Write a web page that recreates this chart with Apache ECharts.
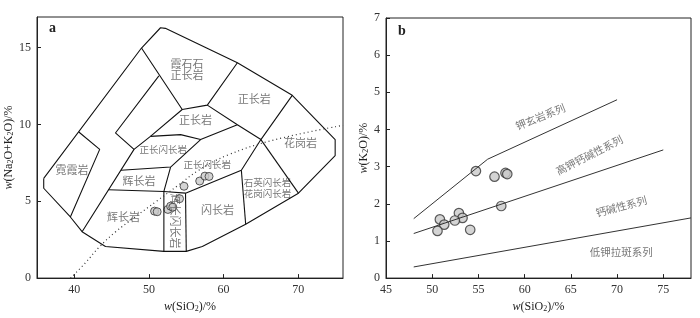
<!DOCTYPE html>
<html>
<head>
<meta charset="utf-8">
<script src="https://cdn.jsdelivr.net/npm/echarts@6/dist/echarts.min.js"></script>
<style>
  html, body { margin: 0; padding: 0; background: #fff; }
  #main { width: 700px; height: 318px; }
</style>
</head>
<body>
<div id="main"></div>
<script>
    // 左图 TAS 分类边界 (SiO2, Na2O+K2O)
    var tasOuter = [[35.9, 6.49], [49.0, 14.98], [51.55, 16.3], [52.2, 16.26], [61.85, 14.02], [69.2, 11.9],
        [74.95, 9.02], [74.95, 7.98], [70.03, 5.53], [62.96, 3.51], [57.15, 2.06], [55.0, 1.74], [52.0, 1.74],
        [44.17, 2.06], [41.04, 3.02], [39.47, 3.98], [35.9, 5.85], [35.9, 6.49]];
    var tasInner = [
        [[49.0, 14.98], [54.46, 10.98], [57.82, 11.26], [61.85, 14.02]],
        [[57.82, 11.26], [61.85, 9.98], [65.0, 9.02], [69.2, 11.9]],
        [[65.0, 9.02], [70.03, 5.53]],
        [[54.46, 10.98], [50.2, 9.23], [48.0, 8.38]],
        [[51.33, 13.17], [45.51, 9.45], [48.0, 8.38], [41.04, 3.02]],
        [[40.6, 9.51], [43.4, 8.38], [39.47, 3.98]],
        [[50.2, 9.23], [54.24, 9.34], [56.92, 9.02], [61.85, 9.98]],
        [[56.92, 9.02], [52.9, 7.23], [46.25, 7.02]],
        [[52.9, 7.23], [52.0, 5.64], [52.0, 1.74]],
        [[44.58, 5.75], [52.0, 5.64], [54.9, 5.53], [62.38, 7.02], [65.0, 9.02]],
        [[54.9, 5.53], [55.0, 1.74]],
        [[62.38, 7.02], [62.96, 3.51]]
    ];
    // 碱性/亚碱性分界 (虚线)
    var alkLine = [[39.5, 0], [41.5, 1], [43.3, 2], [45.5, 3], [48.2, 4], [51.0, 5], [53.8, 6],
        [56.6, 7], [60.5, 8], [66.8, 9], [76.0, 9.95]];
    var tasSamples = [[50.75, 4.36], [51.1, 4.32], [52.54, 4.47], [52.9, 4.68], [53.2, 4.62],
        [54.1, 5.17], [54.7, 5.98], [56.8, 6.32], [57.5, 6.64], [58.05, 6.62]];
    var tasNames = [
        ['霞石石\n正长岩', 55.1, 13.6], ['正长岩', 64.1, 11.68], ['正长岩', 56.25, 10.29],
        ['花岗岩', 70.3, 8.81], ['正长闪长岩', 51.9, 8.4], ['霓霞岩', 39.7, 7.02],
        ['辉长岩', 48.65, 6.32], ['正长闪长岩', 57.8, 7.4], ['石英闪长岩\n花岗闪长岩', 65.9, 5.89],
        ['闪长岩', 59.2, 4.42], ['辉长岩', 46.6, 4.0], ['辉长闪长岩', 53.45, 3.72]
    ];

    // 右图 SiO2-K2O
    var kLines = [
        [[48, 1.6], [56, 3.2], [70, 4.8]],
        [[48, 1.2], [75, 3.45]],
        [[48, 0.3], [78, 1.62]]
    ];
    var kSamples = [[54.73, 2.88], [56.74, 2.73], [57.93, 2.83], [58.12, 2.8], [57.47, 1.94], [52.89, 1.75],
        [53.28, 1.62], [52.45, 1.55], [50.83, 1.58], [51.3, 1.44], [50.57, 1.27], [54.11, 1.3]];
    var kNames = [
        ['钾玄岩系列', 61.7, 4.34], ['高钾钙碱性系列', 67.0, 3.31],
        ['钙碱性系列', 70.45, 1.93], ['低钾拉斑系列', 70.45, 0.69]
    ];
    var kNameRotate = [22, 27, 15, 0];

    var tasXTicks = [40, 50, 60, 70];
    var tasYTicks = [0, 5, 10, 15];
    var kXTicks = [45, 50, 55, 60, 65, 70, 75];

    var serif = '"Liberation Serif", "Times New Roman", serif';
    var cjk = '"Noto Sans CJK SC", sans-serif';
    var rich = {
        i: { fontStyle: 'italic', fontFamily: serif, fontSize: 12, color: '#222' },
        t: { fontFamily: serif, fontSize: 12, color: '#222' },
        s: { fontFamily: serif, fontSize: 8, color: '#222', verticalAlign: 'bottom', lineHeight: 10 }
    };

    function valueAxis(idx, min, max, custom, interval) {
        var ax = {
            type: 'value', gridIndex: idx, min: min, max: max,
            axisLine: { lineStyle: { color: '#222', width: 1 } },
            axisTick: { inside: true, length: 4, lineStyle: { color: '#222' } },
            axisLabel: { fontFamily: serif, fontSize: 12, color: '#333', margin: 6 },
            splitLine: { show: false }
        };
        if (custom) {
            ax.axisTick.customValues = custom;
            ax.axisLabel.customValues = custom;
        } else {
            ax.interval = interval;
        }
        return ax;
    }

    var series = [];
    function addLine(pts, xi, style) {
        series.push({
            type: 'line', xAxisIndex: xi, yAxisIndex: xi, data: pts, symbol: 'none',
            silent: true, lineStyle: style, animation: false
        });
    }
    addLine(tasOuter, 0, { color: '#111', width: 1.1 });
    tasInner.forEach(function(p) { addLine(p, 0, { color: '#111', width: 1.1 }); });
    series.push({
        type: 'line', xAxisIndex: 0, yAxisIndex: 0, data: alkLine, symbol: 'none', smooth: 0.4,
        lineStyle: { color: '#333', width: 1.2, type: [1, 3] }, animation: false
    });
    kLines.forEach(function(p) { addLine(p, 1, { color: '#333', width: 1 }); });

    series.push({
        type: 'scatter', xAxisIndex: 0, yAxisIndex: 0, data: tasSamples, symbolSize: 8,
        itemStyle: { color: '#c9c9c9', borderColor: '#333', borderWidth: 1 }, animation: false
    });
    series.push({
        type: 'scatter', xAxisIndex: 1, yAxisIndex: 1, data: kSamples, symbolSize: 9.5,
        itemStyle: { color: '#c9c9c9', borderColor: '#333', borderWidth: 1.2 }, animation: false
    });

    series.push({
        type: 'scatter', xAxisIndex: 0, yAxisIndex: 0, symbolSize: 0, silent: true, animation: false,
        data: tasNames.map(function(d) {
            var item = { name: d[0], value: [d[1], d[2]], label: {} };
            var longest = Math.max.apply(null, d[0].split('\n').map(function(s) { return s.length; }));
            if (d[0] === '辉长闪长岩') item.label.rotate = -90;
            else if (longest > 4) item.label.fontSize = 9.5;
            return item;
        }),
        label: {
            show: true, position: 'inside', formatter: '{b}', color: '#555',
            fontFamily: cjk, fontSize: 11, lineHeight: 11
        }
    });
    series.push({
        type: 'scatter', xAxisIndex: 1, yAxisIndex: 1, symbolSize: 0, silent: true, animation: false,
        data: kNames.map(function(d, i) {
            return { name: d[0], value: [d[1], d[2]], label: { rotate: kNameRotate[i] } };
        }),
        label: {
            show: true, position: 'inside', formatter: '{b}', color: '#555',
            fontFamily: cjk, fontSize: 10.5
        }
    });

    var myChart = echarts.init(document.getElementById('main'), null, { renderer: 'canvas' });
    var option = {
        backgroundColor: '#fff',
        animation: false,
        title: [
            { text: 'a', left: 44, top: 16, textStyle: { fontFamily: serif, fontSize: 14, fontWeight: 'bold', color: '#222' } },
            { text: 'b', left: 393, top: 19, textStyle: { fontFamily: serif, fontSize: 14, fontWeight: 'bold', color: '#222' } }
        ],
        grid: [
            { left: 37, top: 17, width: 306, height: 266, show: true, borderColor: '#222', borderWidth: 1, backgroundColor: 'transparent' },
            { left: 386, top: 18, width: 305, height: 265, show: true, borderColor: '#222', borderWidth: 1, backgroundColor: 'transparent' }
        ],
        xAxis: [
            Object.assign(valueAxis(0, 35, 76, tasXTicks), {
                name: '{i|w}{t|(SiO}{s|2}{t|)/%}', nameLocation: 'middle', nameGap: 21,
                nameTextStyle: { rich: rich }
            }),
            Object.assign(valueAxis(1, 45, 78, kXTicks), {
                name: '{i|w}{t|(SiO}{s|2}{t|)/%}', nameLocation: 'middle', nameGap: 21,
                nameTextStyle: { rich: rich }
            })
        ],
        yAxis: [
            Object.assign(valueAxis(0, 0, 17, tasYTicks), {
                name: '{i|w}{t|(Na}{s|2}{t|O+K}{s|2}{t|O)/%}', nameLocation: 'middle', nameGap: 19,
                nameTextStyle: { rich: rich }
            }),
            Object.assign(valueAxis(1, 0, 7, null, 1), {
                name: '{i|w}{t|(K}{s|2}{t|O)/%}', nameLocation: 'middle', nameGap: 13,
                nameTextStyle: { rich: rich }
            })
        ],
        series: series
    };
    myChart.setOption(option);

    window.addEventListener('resize', function() {
        if (myChart != null && myChart != undefined) {
            myChart.resize();
        }
    });
</script>
</body>
</html>
